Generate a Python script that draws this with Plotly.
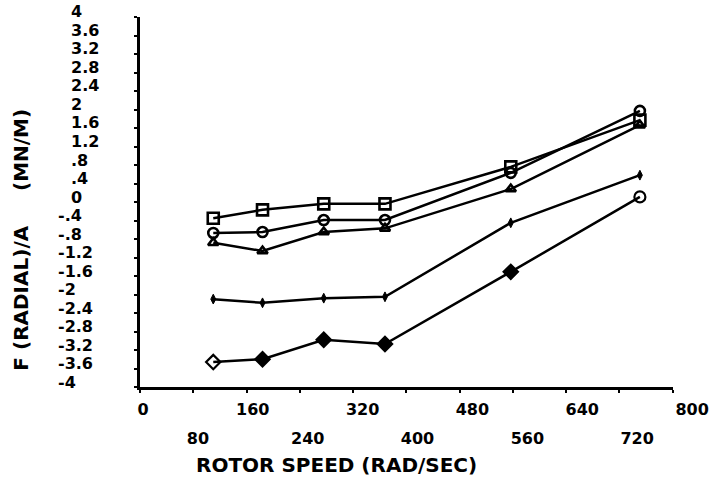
import plotly.graph_objects as go

# ---- data ----
rotor_speed = [110, 184, 276, 368, 557, 751]
series_square = [-0.35, -0.17, -0.04, -0.04, 0.76, 1.77]
series_circle = [-0.67, -0.65, -0.39, -0.39, 0.63, 1.97]
series_triangle = [-0.88, -1.06, -0.65, -0.57, 0.28, 1.66]
series_plus = [-2.10, -2.18, -2.08, -2.05, -0.45, 0.58]
series_diamond = [-3.46, -3.40, -2.98, -3.07, -1.51, 0.11]

x_ticks_top = [0, 160, 320, 480, 640, 800]
x_ticks_bottom = [80, 240, 400, 560, 720]
y_tick_vals = [4, 3.6, 3.2, 2.8, 2.4, 2, 1.6, 1.2, 0.8, 0.4, 0,
               -0.4, -0.8, -1.2, -1.6, -2, -2.4, -2.8, -3.2, -3.6, -4]
y_tick_text = ["4", "3.6", "3.2", "2.8", "2.4", "2", "1.6", "1.2", ".8", ".4", "0",
               "-.4", "-.8", "-1.2", "-1.6", "-2", "-2.4", "-2.8", "-3.2", "-3.6", "-4"]

x_title = "ROTOR SPEED (RAD/SEC)"
y_title = "F (RADIAL)/A     (MN/M)"

W, H = 725, 483
ML, MR, MT, MB = 50, 15, 12, 96
PW = W - ML - MR
PH = H - MT - MB


def px_x(p):
    return (p - ML) / PW


def px_y(p):
    return (H - MB - p) / PH


FONT = "DejaVu Sans"
BLACK = "#000000"
LW = 2.5

fig = go.Figure()

common = dict(mode="lines+markers", line=dict(color=BLACK, width=LW),
              showlegend=False, hoverinfo="skip")

fig.add_trace(go.Scatter(x=rotor_speed, y=series_square,
                         marker=dict(symbol="square-open", size=11, color=BLACK,
                                     line=dict(width=2.6, color=BLACK)), **common))
fig.add_trace(go.Scatter(x=rotor_speed, y=series_circle,
                         marker=dict(symbol="circle-open", size=10, color=BLACK,
                                     line=dict(width=2.6, color=BLACK)), **common))
fig.add_trace(go.Scatter(x=rotor_speed, y=series_triangle,
                         marker=dict(symbol="triangle-up-open", size=9, color=BLACK,
                                     line=dict(width=2.6, color=BLACK)), **common))
fig.add_trace(go.Scatter(x=rotor_speed, y=series_plus,
                         marker=dict(symbol="diamond-tall", size=7, color=BLACK,
                                     line=dict(width=1, color=BLACK)), **common))
fig.add_trace(go.Scatter(x=rotor_speed, y=series_diamond,
                         marker=dict(symbol=["diamond-open", "diamond", "diamond",
                                             "diamond", "diamond", "circle-open"],
                                     size=11, color=BLACK,
                                     line=dict(width=2.2, color=BLACK)), **common))

# dummy traces so the label-only x axes are drawn
fig.add_trace(go.Scatter(x=[None], y=[None], xaxis="x2", yaxis="y", showlegend=False, hoverinfo="skip"))
fig.add_trace(go.Scatter(x=[None], y=[None], xaxis="x3", yaxis="y", showlegend=False, hoverinfo="skip"))

tick_font = dict(family=FONT, size=16, color=BLACK, weight="bold")
title_font = dict(family=FONT, size=20, color=BLACK, weight="bold")

annotations = [
    dict(text=x_title, xref="paper", yref="paper", x=px_x(343), y=px_y(465),
         xanchor="center", yanchor="middle", showarrow=False, font=title_font),
    dict(text=y_title, xref="paper", yref="paper", x=px_x(20), y=px_y(240),
         xanchor="center", yanchor="middle", showarrow=False, textangle=-90,
         font=title_font),
]
# left-aligned y tick labels (sign column for negatives)
for v, t in zip(y_tick_vals, y_tick_text):
    lx = 56 if t.startswith("-") else 69
    annotations.append(dict(text=t, xref="paper", yref="y", x=px_x(lx), y=v,
                            xanchor="left", yanchor="middle", showarrow=False,
                            yshift=5, font=tick_font))

fig.update_layout(
    width=W, height=H,
    margin=dict(l=ML, r=MR, t=MT, b=MB),
    paper_bgcolor="white", plot_bgcolor="rgba(0,0,0,0)",
    font=dict(family=FONT, color=BLACK),
    xaxis=dict(domain=[px_x(142), px_x(686)], range=[0, 800],
               tickvals=x_ticks_top + x_ticks_bottom, ticks="outside", ticklen=3,
               tickwidth=2, tickcolor=BLACK, showticklabels=False,
               showline=True, linecolor=BLACK, linewidth=2.5,
               showgrid=False, zeroline=False, anchor="y"),
    xaxis2=dict(domain=[px_x(145), px_x(706)], range=[0, 800],
                tickvals=x_ticks_top, ticktext=[str(v) for v in x_ticks_top],
                ticks="", showline=False, showgrid=False, zeroline=False,
                tickfont=tick_font, anchor="y", side="bottom", ticklabelstandoff=11),
    xaxis3=dict(domain=[px_x(145), px_x(706)], range=[0, 800],
                tickvals=x_ticks_bottom, ticktext=[str(v) for v in x_ticks_bottom],
                ticks="", showline=False, showgrid=False, zeroline=False,
                tickfont=tick_font, anchor="y", side="bottom", ticklabelstandoff=40),
    yaxis=dict(domain=[0, px_y(17)], range=[-4, 4], tickvals=y_tick_vals,
               ticks="outside", ticklen=3, tickwidth=2, tickcolor=BLACK,
               showticklabels=False, showline=True, linecolor=BLACK, linewidth=2.5,
               showgrid=False, zeroline=False, anchor="x"),
    annotations=annotations,
)

fig.write_html("out.html", config={"displayModeBar": False},
               post_script="document.body.style.margin='0';document.body.style.padding='0';")
